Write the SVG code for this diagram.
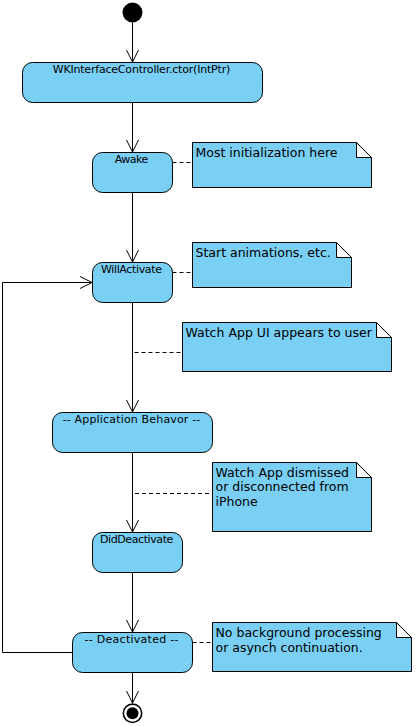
<svg xmlns="http://www.w3.org/2000/svg" width="416" height="726" viewBox="0 0 416 726">
<defs>
<style>
.node rect{fill:#7acff5;stroke:#000;stroke-width:1}
.node text{font-family:"DejaVu Sans",sans-serif;font-size:11px;fill:#000;text-anchor:middle}
.note .body{fill:#7acff5;stroke:#000;stroke-width:1}
.note .fold{fill:#fff;stroke:#000;stroke-width:1}
.note text{font-family:"DejaVu Sans",sans-serif;font-size:12.5px;fill:#000}
.edge{fill:none;stroke:#000;stroke-width:1}
.anchor{fill:none;stroke:#000;stroke-width:1;stroke-dasharray:4,3}
</style>
<marker id="arr" markerUnits="userSpaceOnUse" orient="auto" markerWidth="1" markerHeight="1" overflow="visible">
<path d="M-12,-6 L0,0 L-12,6" fill="none" stroke="#000" stroke-width="1"/>
</marker>
</defs>
<rect width="416" height="726" fill="#fff"/>

<g id="connectors">
<path class="edge" d="M132.5,22.5 V62" marker-end="url(#arr)"/>
<path class="edge" d="M132.5,102.5 V152" marker-end="url(#arr)"/>
<path class="edge" d="M132.5,192.5 V262" marker-end="url(#arr)"/>
<path class="edge" d="M132.5,302.5 V412" marker-end="url(#arr)"/>
<path class="edge" d="M132.5,452.5 V532" marker-end="url(#arr)"/>
<path class="edge" d="M132.5,572.5 V632" marker-end="url(#arr)"/>
<path class="edge" d="M132.5,672.5 V703" marker-end="url(#arr)"/>
<path class="edge" d="M72.5,652.5 H2.5 V282.5 H92" marker-end="url(#arr)"/>
<path class="anchor" d="M172.5,162.5 H192.5"/>
<path class="anchor" d="M172.5,272.5 H192.5"/>
<path class="anchor" d="M134.5,352.5 H182.5"/>
<path class="anchor" d="M135,493.5 H212.5"/>
<path class="anchor" d="M192.5,642.5 H212.5"/>
</g>

<g id="initial">
<circle cx="132.5" cy="12.5" r="10" fill="#000"/>
</g>

<g id="ctor" class="node">
<rect x="22.5" y="62.5" width="240" height="40" rx="10"/>
<text x="141.5" y="73" textLength="177.6">WKInterfaceController.ctor(IntPtr)</text>
</g>

<g id="awake" class="node">
<rect x="92.5" y="152.5" width="80" height="40" rx="10"/>
<text x="131.5" y="163" textLength="33.7">Awake</text>
</g>

<g id="willactivate" class="node">
<rect x="92.5" y="262.5" width="80" height="40" rx="10"/>
<text x="131.5" y="273" textLength="61">WillActivate</text>
</g>

<g id="appbehavior" class="node">
<rect x="52.5" y="412.5" width="160" height="40" rx="10"/>
<text x="131.5" y="423" textLength="137.7">-- Application Behavor --</text>
</g>

<g id="diddeactivate" class="node">
<rect x="92.5" y="532.5" width="90" height="40" rx="10"/>
<text x="136.7" y="543" textLength="73.3">DidDeactivate</text>
</g>

<g id="deactivated" class="node">
<rect x="72.5" y="632.5" width="120" height="40" rx="10"/>
<text x="131.5" y="643" textLength="94">-- Deactivated --</text>
</g>

<g id="final">
<circle cx="132.5" cy="713.3" r="9.2" fill="#fff" stroke="#000" stroke-width="1.6"/>
<circle cx="132.5" cy="713.3" r="6" fill="#000"/>
</g>

<g id="note1" class="note">
<path class="body" d="M192.5,142.5 H356.5 L371.5,157.5 V187.5 H192.5 Z"/>
<path class="fold" d="M356.5,142.5 V157.5 H371.5 Z"/>
<text x="195.5" y="156.7">Most initialization here</text>
</g>

<g id="note2" class="note">
<path class="body" d="M192.5,242.5 H336.5 L351.5,257.5 V287.5 H192.5 Z"/>
<path class="fold" d="M336.5,242.5 V257.5 H351.5 Z"/>
<text x="195.5" y="256.7">Start animations, etc.</text>
</g>

<g id="note3" class="note">
<path class="body" d="M182.5,322.5 H376.5 L391.5,337.5 V371.5 H182.5 Z"/>
<path class="fold" d="M376.5,322.5 V337.5 H391.5 Z"/>
<text x="185.5" y="336.7">Watch App UI appears to user</text>
</g>

<g id="note4" class="note">
<path class="body" d="M212.5,462.5 H356.5 L371.5,477.5 V531.5 H212.5 Z"/>
<path class="fold" d="M356.5,462.5 V477.5 H371.5 Z"/>
<text x="215.5" y="476.7">Watch App dismissed</text>
<text x="215.5" y="491.3">or disconnected from</text>
<text x="215.5" y="506">iPhone</text>
</g>

<g id="note5" class="note">
<path class="body" d="M212.5,622.5 H396.5 L411.5,637.5 V671.5 H212.5 Z"/>
<path class="fold" d="M396.5,622.5 V637.5 H411.5 Z"/>
<text x="215.5" y="636.7">No background processing</text>
<text x="215.5" y="651.7">or asynch continuation.</text>
</g>
</svg>
